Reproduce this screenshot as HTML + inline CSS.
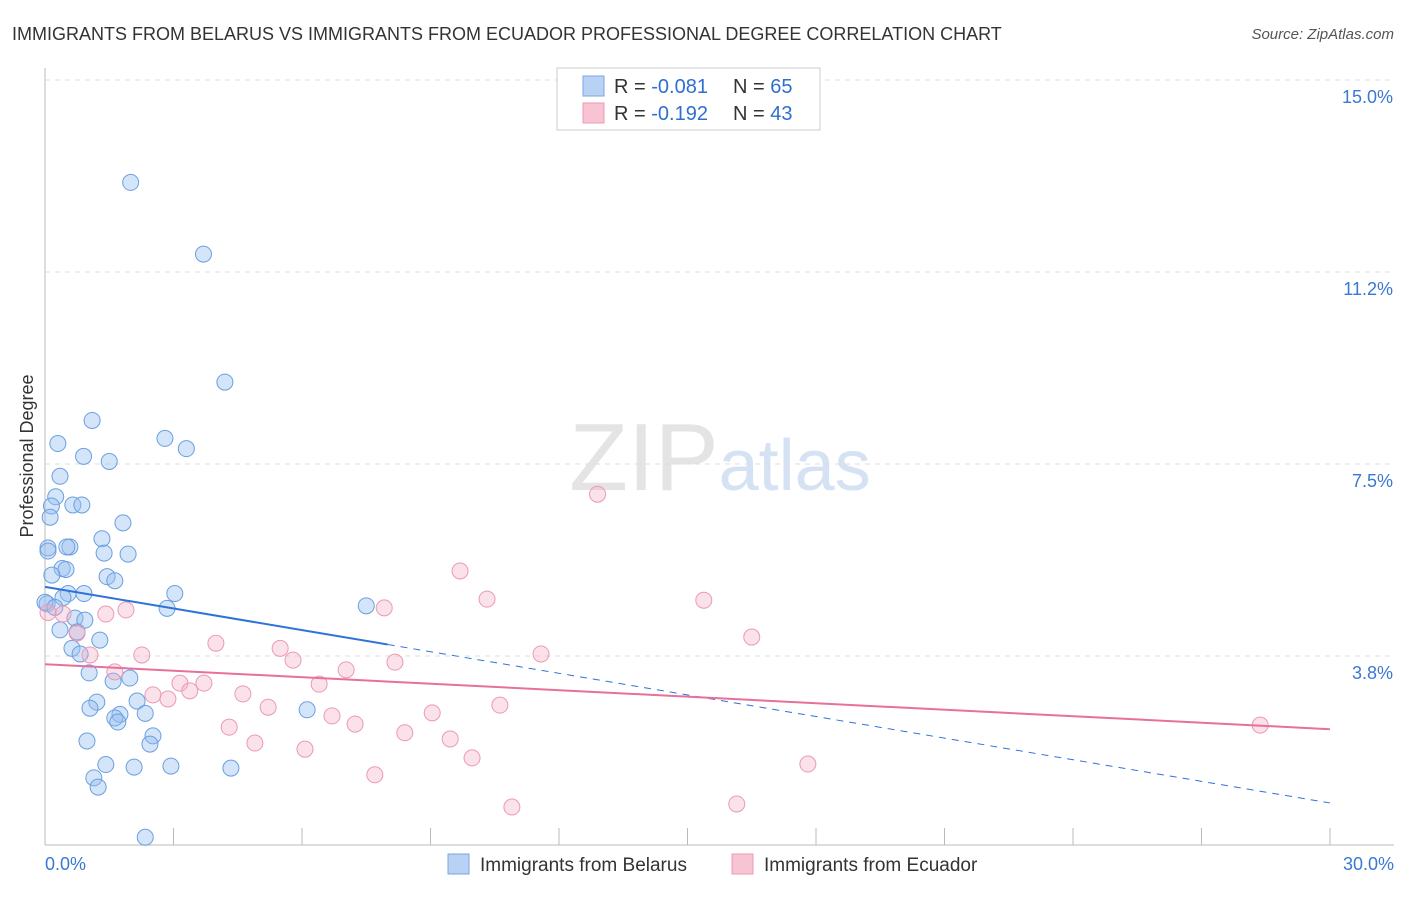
<!DOCTYPE html>
<html><head><meta charset="utf-8"><style>
body{margin:0;background:#fff;font-family:"Liberation Sans",sans-serif;}
svg text{font-family:"Liberation Sans",sans-serif;}
</style></head><body>
<svg id="chart" width="1406" height="892" xmlns="http://www.w3.org/2000/svg">
<text x="12" y="40" font-size="18" fill="#333">IMMIGRANTS FROM BELARUS VS IMMIGRANTS FROM ECUADOR PROFESSIONAL DEGREE CORRELATION CHART</text>
<text x="1394" y="39" font-size="15" fill="#555" text-anchor="end" font-style="italic">Source: ZipAtlas.com</text>
<text x="720" y="490" font-size="96" text-anchor="middle" fill="#e4e4e4" font-family="Liberation Serif"><tspan>ZIP</tspan><tspan fill="#d4e2f4" font-family="Liberation Sans" font-size="72">atlas</tspan></text>
<text transform="translate(33,456) rotate(-90)" font-size="18" fill="#333" text-anchor="middle">Professional Degree</text>
<g id="grid"></g><g id="pts"></g><g id="lines"></g>
<g>
<rect x="557" y="68" width="263" height="62" fill="#fff" stroke="#ccc"/>
<rect x="583" y="76" width="21" height="20" fill="#b8d2f4" stroke="#7aa6e4"/>
<rect x="583" y="103" width="21" height="20" fill="#f8c4d4" stroke="#eb9ab4"/>
<text x="614" y="93" font-size="20" fill="#333">R = <tspan fill="#2f6fd0">-0.081</tspan></text>
<text x="733" y="93" font-size="20" fill="#333">N = <tspan fill="#2f6fd0">65</tspan></text>
<text x="614" y="120" font-size="20" fill="#333">R =  <tspan fill="#2f6fd0">-0.192</tspan></text>
<text x="733" y="120" font-size="20" fill="#333">N = <tspan fill="#2f6fd0">43</tspan></text>
</g>
<g>
<rect x="448" y="854" width="21" height="20" fill="#b8d2f4" stroke="#7aa6e4"/>
<text x="480" y="871" font-size="19" fill="#333">Immigrants from Belarus</text>
<rect x="732" y="854" width="21" height="20" fill="#f8c4d4" stroke="#eb9ab4"/>
<text x="764" y="871" font-size="19" fill="#333">Immigrants from Ecuador</text>
</g>
</svg>
<script>
const yTicks=[15.0,11.25,7.5,3.75];
const yTickLabels=["15.0%","11.2%","7.5%","3.8%"];
const xTickLabels=["0.0%","30.0%"];
const belarusX=[2.0,3.7,4.2,1.1,2.8,3.3,0.3,0.9,1.5,0.35,0.25,0.15,0.65,0.86,0.12,1.82,1.33,0.58,0.51,0.07,1.38,1.94,0.4,0.49,0.16,1.45,1.63,0.54,0.91,3.03,0.42,0.05,2.85,7.5,0.7,0.93,0.35,0.75,1.28,0.63,0.82,1.03,1.98,1.59,1.21,2.15,1.05,1.75,2.34,1.63,1.7,6.12,2.52,2.45,0.98,1.42,2.08,2.94,4.34,1.14,1.24,2.34,0.07,0.0,0.23];
const belarusY=[13.0,11.6,9.1,8.35,8.0,7.8,7.9,7.65,7.55,7.26,6.86,6.68,6.7,6.7,6.46,6.35,6.04,5.88,5.88,5.86,5.76,5.74,5.46,5.44,5.33,5.3,5.22,4.97,4.97,4.97,4.89,4.77,4.68,4.73,4.49,4.45,4.26,4.22,4.06,3.9,3.79,3.42,3.32,3.26,2.85,2.87,2.73,2.61,2.63,2.54,2.46,2.7,2.19,2.03,2.09,1.63,1.58,1.6,1.56,1.37,1.19,0.21,5.8,4.8,4.7];
const ecuadorX=[12.9,9.69,10.32,15.38,7.92,1.89,1.42,0.42,16.5,0.75,3.99,5.49,11.58,2.26,1.05,5.79,8.17,7.03,1.63,6.4,3.15,3.71,2.52,2.87,3.38,4.62,5.21,10.62,9.04,6.7,7.24,4.3,8.4,9.46,4.9,6.07,9.97,17.81,7.7,28.37,10.9,16.15,0.07];
const ecuadorY=[6.91,5.41,4.86,4.84,4.69,4.65,4.57,4.57,4.12,4.2,4.0,3.9,3.79,3.77,3.77,3.67,3.63,3.48,3.44,3.2,3.22,3.22,2.99,2.91,3.07,3.01,2.75,2.79,2.64,2.58,2.42,2.36,2.25,2.13,2.05,1.93,1.76,1.64,1.43,2.4,0.8,0.86,4.6];
const belarusFit=[5.10,0.88];
const ecuadorFit=[3.59,2.32];
const X0=45,X1=1330,Y0=80,YB=848;
const xs=v=>X0+v/30*(X1-X0);
const ys=v=>Y0+(15-v)*(YB-Y0)/15;
const NS="http://www.w3.org/2000/svg";
function mk(tag,attrs,parent){const e=document.createElementNS(NS,tag);for(const k in attrs)e.setAttribute(k,attrs[k]);parent.appendChild(e);return e;}
const grid=document.getElementById('grid');
yTicks.forEach((t,i)=>{
 const l=mk('line',{x1:X0,x2:1394,y1:ys(t),y2:ys(t),stroke:'#ddd','stroke-dasharray':'5,5'},grid);
 
 
 const tx=mk('text',{x:1393,y:ys(t)+23,'font-size':18,fill:'#3a78d4','text-anchor':'end'},grid);
 tx.textContent=yTickLabels[i];
 
 
});
const ax=mk('line',{x1:X0,x2:X0,y1:68,y2:845,stroke:'#bbb'},grid);


const bx=mk('line',{x1:X0,x2:1394,y1:845,y2:845,stroke:'#bbb'},grid);


for(let i=0;i<=10;i++){
 const t=mk('line',{x1:xs(i*3),x2:xs(i*3),y1:828,y2:845,stroke:'#bbb'},grid);
 
 
}
[[0,'start',45],[30,'end',1394]].forEach((d,i)=>{
 const t=mk('text',{x:d[2],y:870,'font-size':18,fill:'#3a78d4','text-anchor':d[1]},grid);
 t.textContent=xTickLabels[i];
 
 
});
const pts=document.getElementById('pts');
belarusX.forEach((x,i)=>{
 const c=mk('circle',{cx:xs(x),cy:ys(belarusY[i]),r:8,fill:'rgba(150,190,240,0.4)',stroke:'#6a9fe0','stroke-width':1},pts);
 
 
});
ecuadorX.forEach((x,i)=>{
 const c=mk('circle',{cx:xs(x),cy:ys(ecuadorY[i]),r:8,fill:'rgba(244,170,196,0.35)',stroke:'#eb9ab4','stroke-width':1},pts);
 
 
});
const lines=document.getElementById('lines');
const bAt=v=>belarusFit[0]+(belarusFit[1]-belarusFit[0])*v/30;
const l1=mk('line',{x1:xs(0),y1:ys(bAt(0)),x2:xs(8),y2:ys(bAt(8)),stroke:'#2f73d8','stroke-width':2},lines);


const l2=mk('line',{x1:xs(8),y1:ys(bAt(8)),x2:xs(30),y2:ys(bAt(30)),stroke:'#2f73d8','stroke-width':1,'stroke-dasharray':'7,6'},lines);


const l3=mk('line',{x1:xs(0),y1:ys(ecuadorFit[0]),x2:xs(30),y2:ys(ecuadorFit[1]),stroke:'#e8709a','stroke-width':2},lines);


</script>
</body></html>
